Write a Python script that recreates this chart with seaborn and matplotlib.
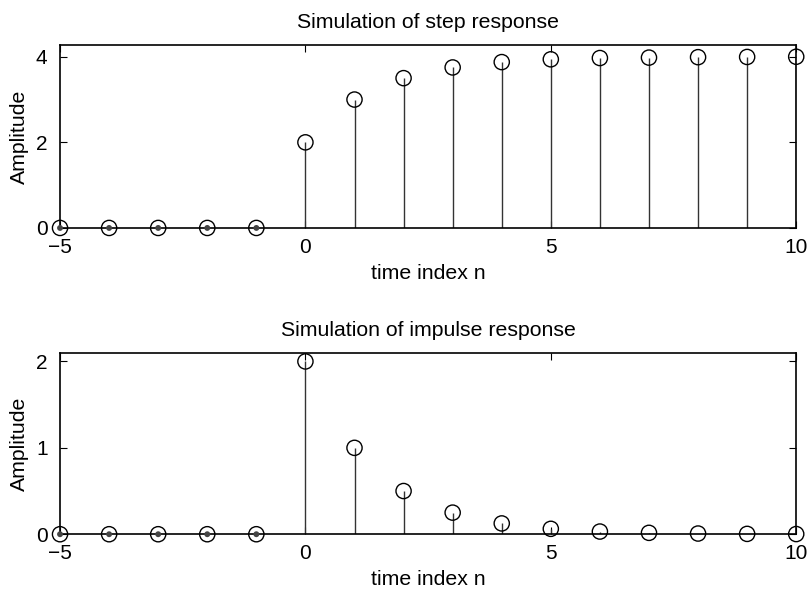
import matplotlib
matplotlib.use("Agg")
import matplotlib.pyplot as plt
import numpy as np
import pandas as pd
import seaborn as sns

# time index and the two simulated responses
n_index = [-5, -4, -3, -2, -1, 0, 1, 2, 3, 4, 5, 6, 7, 8, 9, 10]
step_resp = [0, 0, 0, 0, 0, 2.0, 3.0, 3.5, 3.75, 3.875, 3.94, 3.97, 3.98, 3.99, 3.995, 4.0]
impulse_resp = [0, 0, 0, 0, 0, 2.0, 1.0, 0.5, 0.25, 0.125, 0.0625, 0.031, 0.016, 0.008, 0.004, 0.002]

titles = ["Simulation of step response", "Simulation of impulse response"]
y_ticks = [[0, 2, 4], [0, 1, 2]]
y_tops = [4.28, 2.1]

sns.set_style("ticks")
plt.rcParams['font.family'] = ['Liberation Sans', 'DejaVu Sans']
plt.rcParams['axes.unicode_minus'] = True
plt.rcParams['text.color'] = 'black'
plt.rcParams['axes.labelcolor'] = 'black'

fig = plt.figure(figsize=(8.09, 5.89), dpi=100)
ax_top = fig.add_axes([0.0742, 0.613, 0.910, 0.311])
ax_bot = fig.add_axes([0.0742, 0.093, 0.910, 0.308])


def stem_panel(ax, values, title, ticks, ytop):
    df = pd.DataFrame({"n": n_index, "y": values})
    # stems
    ax.vlines(df["n"], 0, df["y"], color="#333333", linewidth=1.0, zorder=2)
    # zero-length stems show up as small dark dots
    neg = df[df["n"] < 0]
    sns.scatterplot(data=neg, x="n", y="y", ax=ax, s=18, color="#444444",
                    edgecolor="none", zorder=3, clip_on=False, legend=False)
    # open circle heads
    sns.scatterplot(data=df, x="n", y="y", ax=ax, s=120, facecolor="none",
                    edgecolor="black", linewidth=1.0, zorder=4, clip_on=False,
                    legend=False)
    ax.set_xlim(-5, 10)
    ax.set_ylim(0, ytop)
    ax.set_xticks([-5, 0, 5, 10])
    ax.set_yticks(ticks)
    ax.tick_params(direction="in", length=5, width=0.8, top=True, right=True,
                   labelsize=15, colors="black")
    ax.tick_params(axis="x", pad=7)
    ax.tick_params(axis="y", pad=9)
    for sp in ax.spines.values():
        sp.set_visible(True)
        sp.set_linewidth(1.2)
        sp.set_color("black")
    ax.set_title(title, fontsize=15.3, pad=12)
    ax.set_xlabel("time index n", fontsize=15.3, labelpad=5)
    ax.set_ylabel("Amplitude", fontsize=15.3, labelpad=5)


stem_panel(ax_top, step_resp, titles[0], y_ticks[0], y_tops[0])
stem_panel(ax_bot, impulse_resp, titles[1], y_ticks[1], y_tops[1])

fig.savefig("out.png", dpi=100)
